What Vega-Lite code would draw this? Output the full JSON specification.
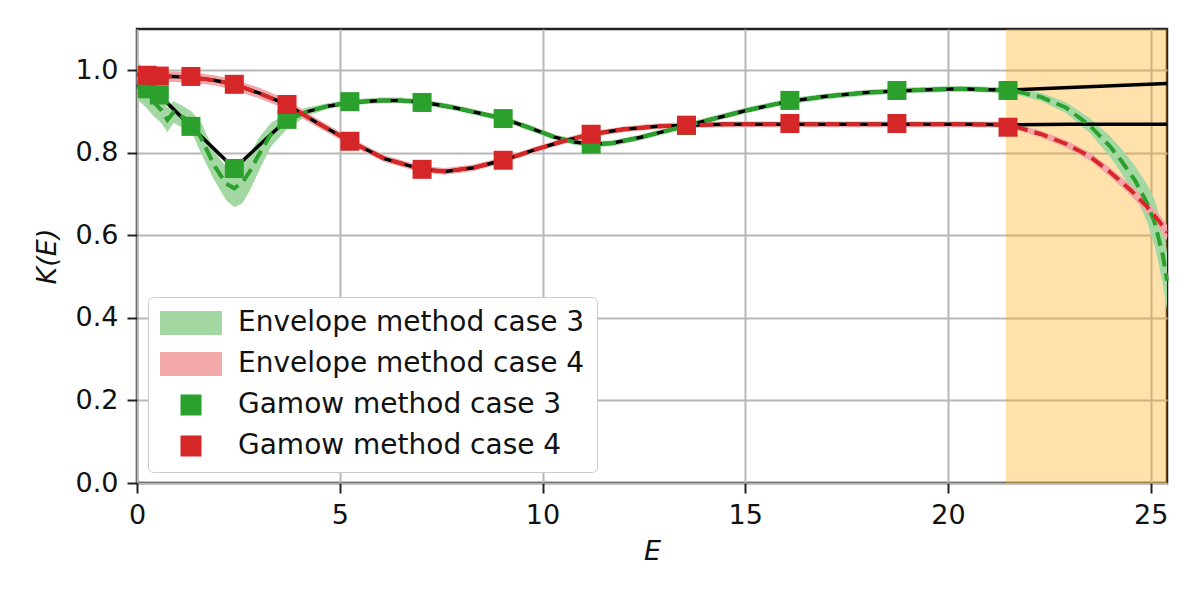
{
  "$schema": "https://vega.github.io/schema/vega-lite/v6.json",
  "width": 1030,
  "height": 454,
  "autosize": {"type": "none"},
  "padding": {"left": 137, "top": 29, "right": 33, "bottom": 117},
  "background": "white",
  "config": {
    "view": {"stroke": "#222", "strokeWidth": 2.5},
    "axis": {
      "domain": false, "grid": true, "gridColor": "#b8b8b8", "gridWidth": 2,
      "tickColor": "#222", "tickWidth": 2, "tickSize": 10, "labelFlush": false,
      "labelFont": "DejaVu Sans", "labelFontSize": 27, "labelColor": "#111", "labelPadding": 9,
      "titleFont": "DejaVu Sans", "titleFontSize": 27, "titleFontWeight": "normal",
      "titleFontStyle": "italic", "titleColor": "#111"
    },
    "legend": {
      "orient": "bottom-left", "offset": 11, "fillColor": "white", "strokeColor": "#cccccc",
      "cornerRadius": 5, "padding": 12, "labelFont": "DejaVu Sans", "labelFontSize": 28,
      "labelColor": "#111", "labelLimit": 0, "symbolSize": 441, "rowPadding": 13,
      "symbolStrokeWidth": 0, "symbolOffset": 17, "labelOffset": 33, "symbolOpacity": 1
    }
  },
  "datasets": {
    "shade": [{"x0": 21.43, "x1": 25.4}],
    "bands": [
      {"series": "Envelope method case 3", "E": 0, "lo": 0.93, "hi": 1.03},
      {"series": "Envelope method case 3", "E": 0.2, "lo": 0.912, "hi": 0.985},
      {"series": "Envelope method case 3", "E": 0.4, "lo": 0.89, "hi": 0.96},
      {"series": "Envelope method case 3", "E": 0.6, "lo": 0.872, "hi": 0.935},
      {"series": "Envelope method case 3", "E": 0.75, "lo": 0.85, "hi": 0.91},
      {"series": "Envelope method case 3", "E": 0.9, "lo": 0.872, "hi": 0.925},
      {"series": "Envelope method case 3", "E": 1.1, "lo": 0.862, "hi": 0.915},
      {"series": "Envelope method case 3", "E": 1.35, "lo": 0.85, "hi": 0.9},
      {"series": "Envelope method case 3", "E": 1.6, "lo": 0.795, "hi": 0.87},
      {"series": "Envelope method case 3", "E": 1.9, "lo": 0.735, "hi": 0.805},
      {"series": "Envelope method case 3", "E": 2.2, "lo": 0.685, "hi": 0.765},
      {"series": "Envelope method case 3", "E": 2.4, "lo": 0.668, "hi": 0.76},
      {"series": "Envelope method case 3", "E": 2.6, "lo": 0.678, "hi": 0.775},
      {"series": "Envelope method case 3", "E": 2.8, "lo": 0.712, "hi": 0.8},
      {"series": "Envelope method case 3", "E": 3.0, "lo": 0.755, "hi": 0.835},
      {"series": "Envelope method case 3", "E": 3.3, "lo": 0.815, "hi": 0.872},
      {"series": "Envelope method case 3", "E": 3.7, "lo": 0.858, "hi": 0.896},
      {"series": "Envelope method case 3", "E": 4.2, "lo": 0.89, "hi": 0.91},
      {"series": "Envelope method case 3", "E": 4.7, "lo": 0.906, "hi": 0.92},
      {"series": "Envelope method case 3", "E": 5.25, "lo": 0.915, "hi": 0.929},
      {"series": "Envelope method case 3", "E": 6.0, "lo": 0.92, "hi": 0.934},
      {"series": "Envelope method case 3", "E": 6.5, "lo": 0.92, "hi": 0.934},
      {"series": "Envelope method case 3", "E": 7.03, "lo": 0.916, "hi": 0.93},
      {"series": "Envelope method case 3", "E": 7.8, "lo": 0.903, "hi": 0.917},
      {"series": "Envelope method case 3", "E": 8.4, "lo": 0.89, "hi": 0.904},
      {"series": "Envelope method case 3", "E": 9.03, "lo": 0.876, "hi": 0.89},
      {"series": "Envelope method case 3", "E": 9.7, "lo": 0.853, "hi": 0.867},
      {"series": "Envelope method case 3", "E": 10.3, "lo": 0.831, "hi": 0.845},
      {"series": "Envelope method case 3", "E": 10.8, "lo": 0.819, "hi": 0.833},
      {"series": "Envelope method case 3", "E": 11.2, "lo": 0.814, "hi": 0.828},
      {"series": "Envelope method case 3", "E": 11.7, "lo": 0.816, "hi": 0.83},
      {"series": "Envelope method case 3", "E": 12.4, "lo": 0.83, "hi": 0.844},
      {"series": "Envelope method case 3", "E": 13.0, "lo": 0.845, "hi": 0.859},
      {"series": "Envelope method case 3", "E": 13.55, "lo": 0.859, "hi": 0.873},
      {"series": "Envelope method case 3", "E": 14.2, "lo": 0.875, "hi": 0.889},
      {"series": "Envelope method case 3", "E": 15.0, "lo": 0.895, "hi": 0.909},
      {"series": "Envelope method case 3", "E": 15.6, "lo": 0.908, "hi": 0.922},
      {"series": "Envelope method case 3", "E": 16.1, "lo": 0.918, "hi": 0.932},
      {"series": "Envelope method case 3", "E": 17.0, "lo": 0.93, "hi": 0.944},
      {"series": "Envelope method case 3", "E": 18.0, "lo": 0.939, "hi": 0.953},
      {"series": "Envelope method case 3", "E": 18.74, "lo": 0.943, "hi": 0.957},
      {"series": "Envelope method case 3", "E": 19.5, "lo": 0.946, "hi": 0.96},
      {"series": "Envelope method case 3", "E": 20.3, "lo": 0.948, "hi": 0.962},
      {"series": "Envelope method case 3", "E": 21.0, "lo": 0.946, "hi": 0.96},
      {"series": "Envelope method case 3", "E": 21.48, "lo": 0.944, "hi": 0.958},
      {"series": "Envelope method case 3", "E": 21.78, "lo": 0.938, "hi": 0.956},
      {"series": "Envelope method case 3", "E": 22.3, "lo": 0.925, "hi": 0.945},
      {"series": "Envelope method case 3", "E": 22.9, "lo": 0.897, "hi": 0.923},
      {"series": "Envelope method case 3", "E": 23.5, "lo": 0.848, "hi": 0.884},
      {"series": "Envelope method case 3", "E": 24.0, "lo": 0.79, "hi": 0.84},
      {"series": "Envelope method case 3", "E": 24.3, "lo": 0.747, "hi": 0.807},
      {"series": "Envelope method case 3", "E": 24.6, "lo": 0.7, "hi": 0.77},
      {"series": "Envelope method case 3", "E": 24.9, "lo": 0.635, "hi": 0.725},
      {"series": "Envelope method case 3", "E": 25.1, "lo": 0.575, "hi": 0.685},
      {"series": "Envelope method case 3", "E": 25.3, "lo": 0.48, "hi": 0.62},
      {"series": "Envelope method case 3", "E": 25.4, "lo": 0.42, "hi": 0.56},
      {"series": "Envelope method case 4", "E": 0, "lo": 0.975, "hi": 1.005},
      {"series": "Envelope method case 4", "E": 0.27, "lo": 0.975, "hi": 1.0},
      {"series": "Envelope method case 4", "E": 0.57, "lo": 0.973, "hi": 0.998},
      {"series": "Envelope method case 4", "E": 1.33, "lo": 0.97, "hi": 0.995},
      {"series": "Envelope method case 4", "E": 1.9, "lo": 0.964, "hi": 0.988},
      {"series": "Envelope method case 4", "E": 2.37, "lo": 0.953, "hi": 0.979},
      {"series": "Envelope method case 4", "E": 3.0, "lo": 0.932, "hi": 0.958},
      {"series": "Envelope method case 4", "E": 3.7, "lo": 0.905, "hi": 0.929},
      {"series": "Envelope method case 4", "E": 4.4, "lo": 0.865, "hi": 0.885},
      {"series": "Envelope method case 4", "E": 5.25, "lo": 0.819, "hi": 0.837},
      {"series": "Envelope method case 4", "E": 6.1, "lo": 0.778, "hi": 0.794},
      {"series": "Envelope method case 4", "E": 7.03, "lo": 0.752, "hi": 0.768},
      {"series": "Envelope method case 4", "E": 7.6, "lo": 0.747, "hi": 0.763},
      {"series": "Envelope method case 4", "E": 8.3, "lo": 0.756, "hi": 0.772},
      {"series": "Envelope method case 4", "E": 9.03, "lo": 0.775, "hi": 0.789},
      {"series": "Envelope method case 4", "E": 9.8, "lo": 0.8, "hi": 0.814},
      {"series": "Envelope method case 4", "E": 10.5, "lo": 0.821, "hi": 0.835},
      {"series": "Envelope method case 4", "E": 11.2, "lo": 0.838, "hi": 0.852},
      {"series": "Envelope method case 4", "E": 12.0, "lo": 0.85, "hi": 0.864},
      {"series": "Envelope method case 4", "E": 12.8, "lo": 0.857, "hi": 0.871},
      {"series": "Envelope method case 4", "E": 13.55, "lo": 0.86, "hi": 0.874},
      {"series": "Envelope method case 4", "E": 14.5, "lo": 0.862, "hi": 0.876},
      {"series": "Envelope method case 4", "E": 16.1, "lo": 0.862, "hi": 0.876},
      {"series": "Envelope method case 4", "E": 18.74, "lo": 0.862, "hi": 0.876},
      {"series": "Envelope method case 4", "E": 20.5, "lo": 0.862, "hi": 0.876},
      {"series": "Envelope method case 4", "E": 21.48, "lo": 0.861, "hi": 0.875},
      {"series": "Envelope method case 4", "E": 21.78, "lo": 0.853, "hi": 0.867},
      {"series": "Envelope method case 4", "E": 22.3, "lo": 0.837, "hi": 0.853},
      {"series": "Envelope method case 4", "E": 22.9, "lo": 0.813, "hi": 0.831},
      {"series": "Envelope method case 4", "E": 23.5, "lo": 0.781, "hi": 0.801},
      {"series": "Envelope method case 4", "E": 24.0, "lo": 0.742, "hi": 0.764},
      {"series": "Envelope method case 4", "E": 24.5, "lo": 0.697, "hi": 0.723},
      {"series": "Envelope method case 4", "E": 24.9, "lo": 0.655, "hi": 0.685},
      {"series": "Envelope method case 4", "E": 25.2, "lo": 0.618, "hi": 0.652},
      {"series": "Envelope method case 4", "E": 25.4, "lo": 0.588, "hi": 0.626}
    ],
    "curves": [
      {"case": "3", "kind": "exact", "E": 0, "K": 0.963},
      {"case": "3", "kind": "exact", "E": 0.25, "K": 0.955},
      {"case": "3", "kind": "exact", "E": 0.55, "K": 0.94},
      {"case": "3", "kind": "exact", "E": 1.33, "K": 0.864},
      {"case": "3", "kind": "exact", "E": 2.4, "K": 0.762},
      {"case": "3", "kind": "exact", "E": 3.7, "K": 0.881},
      {"case": "3", "kind": "exact", "E": 4.2, "K": 0.9},
      {"case": "3", "kind": "exact", "E": 4.7, "K": 0.913},
      {"case": "3", "kind": "exact", "E": 5.25, "K": 0.922},
      {"case": "3", "kind": "exact", "E": 6.0, "K": 0.927},
      {"case": "3", "kind": "exact", "E": 6.5, "K": 0.927},
      {"case": "3", "kind": "exact", "E": 7.03, "K": 0.923},
      {"case": "3", "kind": "exact", "E": 7.8, "K": 0.91},
      {"case": "3", "kind": "exact", "E": 8.4, "K": 0.897},
      {"case": "3", "kind": "exact", "E": 9.03, "K": 0.883},
      {"case": "3", "kind": "exact", "E": 9.7, "K": 0.86},
      {"case": "3", "kind": "exact", "E": 10.3, "K": 0.838},
      {"case": "3", "kind": "exact", "E": 10.8, "K": 0.826},
      {"case": "3", "kind": "exact", "E": 11.2, "K": 0.821},
      {"case": "3", "kind": "exact", "E": 11.7, "K": 0.823},
      {"case": "3", "kind": "exact", "E": 12.4, "K": 0.837},
      {"case": "3", "kind": "exact", "E": 13.0, "K": 0.852},
      {"case": "3", "kind": "exact", "E": 13.55, "K": 0.866},
      {"case": "3", "kind": "exact", "E": 14.2, "K": 0.882},
      {"case": "3", "kind": "exact", "E": 15.0, "K": 0.902},
      {"case": "3", "kind": "exact", "E": 15.6, "K": 0.915},
      {"case": "3", "kind": "exact", "E": 16.1, "K": 0.925},
      {"case": "3", "kind": "exact", "E": 17.0, "K": 0.937},
      {"case": "3", "kind": "exact", "E": 18.0, "K": 0.946},
      {"case": "3", "kind": "exact", "E": 18.74, "K": 0.95},
      {"case": "3", "kind": "exact", "E": 19.5, "K": 0.953},
      {"case": "3", "kind": "exact", "E": 20.3, "K": 0.955},
      {"case": "3", "kind": "exact", "E": 21.0, "K": 0.953},
      {"case": "3", "kind": "exact", "E": 21.48, "K": 0.952},
      {"case": "3", "kind": "exact", "E": 23.0, "K": 0.958},
      {"case": "3", "kind": "exact", "E": 25.4, "K": 0.968},
      {"case": "4", "kind": "exact", "E": 0, "K": 0.99},
      {"case": "4", "kind": "exact", "E": 0.25, "K": 0.988},
      {"case": "4", "kind": "exact", "E": 0.55, "K": 0.986},
      {"case": "4", "kind": "exact", "E": 1.33, "K": 0.983},
      {"case": "4", "kind": "exact", "E": 1.9, "K": 0.976},
      {"case": "4", "kind": "exact", "E": 2.4, "K": 0.966},
      {"case": "4", "kind": "exact", "E": 3.0, "K": 0.945},
      {"case": "4", "kind": "exact", "E": 3.7, "K": 0.917},
      {"case": "4", "kind": "exact", "E": 4.4, "K": 0.875},
      {"case": "4", "kind": "exact", "E": 5.25, "K": 0.828},
      {"case": "4", "kind": "exact", "E": 6.1, "K": 0.786},
      {"case": "4", "kind": "exact", "E": 7.03, "K": 0.76},
      {"case": "4", "kind": "exact", "E": 7.6, "K": 0.755},
      {"case": "4", "kind": "exact", "E": 8.3, "K": 0.764},
      {"case": "4", "kind": "exact", "E": 9.03, "K": 0.782},
      {"case": "4", "kind": "exact", "E": 9.8, "K": 0.807},
      {"case": "4", "kind": "exact", "E": 10.5, "K": 0.828},
      {"case": "4", "kind": "exact", "E": 11.2, "K": 0.845},
      {"case": "4", "kind": "exact", "E": 12.0, "K": 0.857},
      {"case": "4", "kind": "exact", "E": 12.8, "K": 0.864},
      {"case": "4", "kind": "exact", "E": 13.55, "K": 0.867},
      {"case": "4", "kind": "exact", "E": 14.5, "K": 0.869},
      {"case": "4", "kind": "exact", "E": 16.1, "K": 0.869},
      {"case": "4", "kind": "exact", "E": 18.74, "K": 0.869},
      {"case": "4", "kind": "exact", "E": 20.5, "K": 0.869},
      {"case": "4", "kind": "exact", "E": 21.48, "K": 0.868},
      {"case": "4", "kind": "exact", "E": 23.0, "K": 0.869},
      {"case": "4", "kind": "exact", "E": 25.4, "K": 0.869},
      {"case": "3", "kind": "mean", "E": 0, "K": 0.96},
      {"case": "3", "kind": "mean", "E": 0.2, "K": 0.95},
      {"case": "3", "kind": "mean", "E": 0.4, "K": 0.925},
      {"case": "3", "kind": "mean", "E": 0.6, "K": 0.903},
      {"case": "3", "kind": "mean", "E": 0.75, "K": 0.88},
      {"case": "3", "kind": "mean", "E": 0.9, "K": 0.898},
      {"case": "3", "kind": "mean", "E": 1.1, "K": 0.888},
      {"case": "3", "kind": "mean", "E": 1.35, "K": 0.875},
      {"case": "3", "kind": "mean", "E": 1.6, "K": 0.832},
      {"case": "3", "kind": "mean", "E": 1.9, "K": 0.77},
      {"case": "3", "kind": "mean", "E": 2.2, "K": 0.725},
      {"case": "3", "kind": "mean", "E": 2.4, "K": 0.714},
      {"case": "3", "kind": "mean", "E": 2.6, "K": 0.728},
      {"case": "3", "kind": "mean", "E": 2.8, "K": 0.758},
      {"case": "3", "kind": "mean", "E": 3.0, "K": 0.795},
      {"case": "3", "kind": "mean", "E": 3.3, "K": 0.845},
      {"case": "3", "kind": "mean", "E": 3.7, "K": 0.878},
      {"case": "3", "kind": "mean", "E": 4.2, "K": 0.9},
      {"case": "3", "kind": "mean", "E": 4.7, "K": 0.913},
      {"case": "3", "kind": "mean", "E": 5.25, "K": 0.922},
      {"case": "3", "kind": "mean", "E": 6.0, "K": 0.927},
      {"case": "3", "kind": "mean", "E": 6.5, "K": 0.927},
      {"case": "3", "kind": "mean", "E": 7.03, "K": 0.923},
      {"case": "3", "kind": "mean", "E": 7.8, "K": 0.91},
      {"case": "3", "kind": "mean", "E": 8.4, "K": 0.897},
      {"case": "3", "kind": "mean", "E": 9.03, "K": 0.883},
      {"case": "3", "kind": "mean", "E": 9.7, "K": 0.86},
      {"case": "3", "kind": "mean", "E": 10.3, "K": 0.838},
      {"case": "3", "kind": "mean", "E": 10.8, "K": 0.826},
      {"case": "3", "kind": "mean", "E": 11.2, "K": 0.821},
      {"case": "3", "kind": "mean", "E": 11.7, "K": 0.823},
      {"case": "3", "kind": "mean", "E": 12.4, "K": 0.837},
      {"case": "3", "kind": "mean", "E": 13.0, "K": 0.852},
      {"case": "3", "kind": "mean", "E": 13.55, "K": 0.866},
      {"case": "3", "kind": "mean", "E": 14.2, "K": 0.882},
      {"case": "3", "kind": "mean", "E": 15.0, "K": 0.902},
      {"case": "3", "kind": "mean", "E": 15.6, "K": 0.915},
      {"case": "3", "kind": "mean", "E": 16.1, "K": 0.925},
      {"case": "3", "kind": "mean", "E": 17.0, "K": 0.937},
      {"case": "3", "kind": "mean", "E": 18.0, "K": 0.946},
      {"case": "3", "kind": "mean", "E": 18.74, "K": 0.95},
      {"case": "3", "kind": "mean", "E": 19.5, "K": 0.953},
      {"case": "3", "kind": "mean", "E": 20.3, "K": 0.955},
      {"case": "3", "kind": "mean", "E": 21.0, "K": 0.953},
      {"case": "3", "kind": "mean", "E": 21.48, "K": 0.951},
      {"case": "3", "kind": "mean", "E": 21.78, "K": 0.947},
      {"case": "3", "kind": "mean", "E": 22.3, "K": 0.935},
      {"case": "3", "kind": "mean", "E": 22.9, "K": 0.91},
      {"case": "3", "kind": "mean", "E": 23.5, "K": 0.866},
      {"case": "3", "kind": "mean", "E": 24.0, "K": 0.815},
      {"case": "3", "kind": "mean", "E": 24.3, "K": 0.777},
      {"case": "3", "kind": "mean", "E": 24.6, "K": 0.735},
      {"case": "3", "kind": "mean", "E": 24.9, "K": 0.68},
      {"case": "3", "kind": "mean", "E": 25.1, "K": 0.63},
      {"case": "3", "kind": "mean", "E": 25.3, "K": 0.55},
      {"case": "3", "kind": "mean", "E": 25.4, "K": 0.49},
      {"case": "4", "kind": "mean", "E": 0, "K": 0.99},
      {"case": "4", "kind": "mean", "E": 0.25, "K": 0.988},
      {"case": "4", "kind": "mean", "E": 0.55, "K": 0.986},
      {"case": "4", "kind": "mean", "E": 1.33, "K": 0.983},
      {"case": "4", "kind": "mean", "E": 1.9, "K": 0.976},
      {"case": "4", "kind": "mean", "E": 2.4, "K": 0.966},
      {"case": "4", "kind": "mean", "E": 3.0, "K": 0.945},
      {"case": "4", "kind": "mean", "E": 3.7, "K": 0.917},
      {"case": "4", "kind": "mean", "E": 4.4, "K": 0.875},
      {"case": "4", "kind": "mean", "E": 5.25, "K": 0.828},
      {"case": "4", "kind": "mean", "E": 6.1, "K": 0.786},
      {"case": "4", "kind": "mean", "E": 7.03, "K": 0.76},
      {"case": "4", "kind": "mean", "E": 7.6, "K": 0.755},
      {"case": "4", "kind": "mean", "E": 8.3, "K": 0.764},
      {"case": "4", "kind": "mean", "E": 9.03, "K": 0.782},
      {"case": "4", "kind": "mean", "E": 9.8, "K": 0.807},
      {"case": "4", "kind": "mean", "E": 10.5, "K": 0.828},
      {"case": "4", "kind": "mean", "E": 11.2, "K": 0.845},
      {"case": "4", "kind": "mean", "E": 12.0, "K": 0.857},
      {"case": "4", "kind": "mean", "E": 12.8, "K": 0.864},
      {"case": "4", "kind": "mean", "E": 13.55, "K": 0.867},
      {"case": "4", "kind": "mean", "E": 14.5, "K": 0.869},
      {"case": "4", "kind": "mean", "E": 16.1, "K": 0.869},
      {"case": "4", "kind": "mean", "E": 18.74, "K": 0.869},
      {"case": "4", "kind": "mean", "E": 20.5, "K": 0.869},
      {"case": "4", "kind": "mean", "E": 21.48, "K": 0.868},
      {"case": "4", "kind": "mean", "E": 21.78, "K": 0.86},
      {"case": "4", "kind": "mean", "E": 22.3, "K": 0.845},
      {"case": "4", "kind": "mean", "E": 22.9, "K": 0.822},
      {"case": "4", "kind": "mean", "E": 23.5, "K": 0.791},
      {"case": "4", "kind": "mean", "E": 24.0, "K": 0.753},
      {"case": "4", "kind": "mean", "E": 24.5, "K": 0.71},
      {"case": "4", "kind": "mean", "E": 24.9, "K": 0.67},
      {"case": "4", "kind": "mean", "E": 25.2, "K": 0.635},
      {"case": "4", "kind": "mean", "E": 25.4, "K": 0.607}
    ],
    "gamow": [
      {"series": "Gamow method case 3", "E": 0.25, "K": 0.955},
      {"series": "Gamow method case 3", "E": 0.55, "K": 0.94},
      {"series": "Gamow method case 3", "E": 1.33, "K": 0.864},
      {"series": "Gamow method case 3", "E": 2.4, "K": 0.762},
      {"series": "Gamow method case 3", "E": 3.7, "K": 0.881},
      {"series": "Gamow method case 3", "E": 5.25, "K": 0.924},
      {"series": "Gamow method case 3", "E": 7.03, "K": 0.922},
      {"series": "Gamow method case 3", "E": 9.03, "K": 0.883},
      {"series": "Gamow method case 3", "E": 11.2, "K": 0.821},
      {"series": "Gamow method case 3", "E": 13.55, "K": 0.866},
      {"series": "Gamow method case 3", "E": 16.1, "K": 0.927},
      {"series": "Gamow method case 3", "E": 18.74, "K": 0.951},
      {"series": "Gamow method case 3", "E": 21.48, "K": 0.951},
      {"series": "Gamow method case 4", "E": 0.25, "K": 0.988},
      {"series": "Gamow method case 4", "E": 0.55, "K": 0.986},
      {"series": "Gamow method case 4", "E": 1.33, "K": 0.985},
      {"series": "Gamow method case 4", "E": 2.4, "K": 0.966},
      {"series": "Gamow method case 4", "E": 3.7, "K": 0.917},
      {"series": "Gamow method case 4", "E": 5.25, "K": 0.828},
      {"series": "Gamow method case 4", "E": 7.03, "K": 0.76},
      {"series": "Gamow method case 4", "E": 9.03, "K": 0.782},
      {"series": "Gamow method case 4", "E": 11.2, "K": 0.845},
      {"series": "Gamow method case 4", "E": 13.55, "K": 0.867},
      {"series": "Gamow method case 4", "E": 16.1, "K": 0.871},
      {"series": "Gamow method case 4", "E": 18.74, "K": 0.871},
      {"series": "Gamow method case 4", "E": 21.48, "K": 0.862}
    ]
  },
  "layer": [
    {
      "data": {"name": "shade"},
      "mark": {"type": "rect", "color": "orange", "opacity": 0.33},
      "encoding": {
        "x": {"field": "x0", "type": "quantitative", "title": "E",
              "scale": {"domain": [0, 25.4], "nice": false, "zero": false},
              "axis": {"values": [0, 5, 10, 15, 20, 25], "titlePadding": 10}},
        "x2": {"field": "x1"}
      }
    },
    {
      "data": {"name": "bands"},
      "mark": {"type": "area"},
      "encoding": {
        "x": {"field": "E", "type": "quantitative", "title": "E"},
        "y": {"field": "lo", "type": "quantitative", "title": "K(E)",
              "scale": {"domain": [0, 1.1], "nice": false},
              "axis": {"values": [0, 0.2, 0.4, 0.6, 0.8, 1.0], "format": ".1f", "titlePadding": 14}},
        "y2": {"field": "hi"},
        "color": {"field": "series", "type": "nominal", "title": null,
                  "scale": {"domain": ["Envelope method case 3", "Envelope method case 4", "Gamow method case 3", "Gamow method case 4"],
                            "range": ["#a3d8a3", "#f2a8a8", "#2ca02c", "#d62728"]}}
      }
    },
    {
      "data": {"name": "curves"},
      "transform": [{"filter": "datum.kind == 'exact'"}],
      "mark": {"type": "line", "color": "black", "strokeWidth": 3.5},
      "encoding": {
        "x": {"field": "E", "type": "quantitative", "title": "E"},
        "y": {"field": "K", "type": "quantitative", "title": "K(E)"},
        "detail": {"field": "case"}
      }
    },
    {
      "data": {"name": "curves"},
      "transform": [{"filter": "datum.kind == 'mean'"}],
      "mark": {"type": "line", "strokeWidth": 4, "strokeDash": [14, 7]},
      "encoding": {
        "x": {"field": "E", "type": "quantitative", "title": "E"},
        "y": {"field": "K", "type": "quantitative", "title": "K(E)"},
        "stroke": {"field": "case", "type": "nominal", "legend": null,
                   "scale": {"domain": ["3", "4"], "range": ["#2ca02c", "#d62728"]}}
      }
    },
    {
      "data": {"name": "gamow"},
      "mark": {"type": "point", "filled": true, "opacity": 1, "size": 361},
      "encoding": {
        "x": {"field": "E", "type": "quantitative", "title": "E"},
        "y": {"field": "K", "type": "quantitative", "title": "K(E)"},
        "color": {"field": "series", "type": "nominal", "title": null,
                  "scale": {"domain": ["Envelope method case 3", "Envelope method case 4", "Gamow method case 3", "Gamow method case 4"],
                            "range": ["#a3d8a3", "#f2a8a8", "#2ca02c", "#d62728"]}},
        "shape": {"field": "series", "type": "nominal", "title": null,
                  "scale": {"domain": ["Envelope method case 3", "Envelope method case 4", "Gamow method case 3", "Gamow method case 4"],
                            "range": ["M-2.95,-1.15H2.95V1.15H-2.95Z", "M-2.95,-1.15H2.95V1.15H-2.95Z", "square", "square"]}}
      }
    }
  ]
}
